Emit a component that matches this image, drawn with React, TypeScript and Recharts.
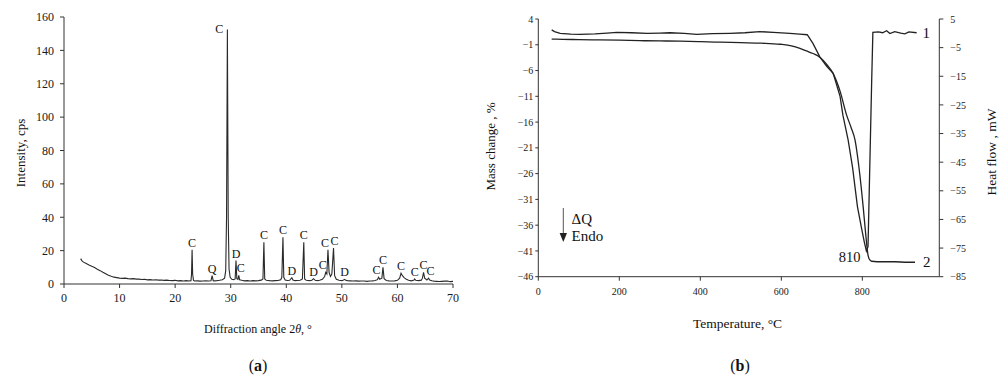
import { ComposedChart, Line, XAxis, YAxis, Scatter, ReferenceDot } from "recharts";

const serif = '"Liberation Serif", "Times New Roman", serif';
const ink = "#1a1a1a";

// (a) XRD pattern: [2θ, cps]
const xrdPattern: [number, number][] = [
  [3.0, 15.2], [3.2, 14.0], [3.5, 13.1], [4.0, 12.3], [4.5, 11.4], [5.0, 10.6], [5.5, 9.9],
  [6.0, 8.9], [6.5, 8.0], [7.0, 7.0], [7.5, 6.1], [8.0, 5.2], [8.5, 4.6], [9.0, 4.1],
  [9.5, 3.8], [10.0, 3.5], [10.5, 3.4], [11.0, 3.5], [11.5, 3.2], [12.0, 3.1], [12.5, 3.2],
  [13.0, 2.9], [13.5, 2.9], [14.0, 2.7], [14.5, 2.8], [15.0, 2.5], [15.5, 2.6], [16.0, 2.4],
  [16.5, 2.5], [17.0, 2.3], [17.5, 2.4], [18.0, 2.2], [18.5, 2.3], [19.0, 2.1], [19.5, 2.0],
  [20.0, 2.2], [20.5, 1.9], [21.0, 2.0], [21.5, 1.8], [22.0, 2.0], [22.5, 1.8],
  [22.85, 2.0], [22.95, 6], [23.05, 20.5], [23.15, 6], [23.3, 2.2],
  [23.5, 1.8], [24.0, 1.9], [24.5, 1.7], [25.0, 1.8], [25.5, 1.9], [26.0, 1.8],
  [26.45, 1.9], [26.65, 5.0], [26.85, 2.0],
  [27.0, 1.9], [27.5, 2.0], [28.0, 2.2], [28.5, 2.6], [28.9, 3.5], [29.1, 8], [29.25, 40],
  [29.4, 152.5], [29.55, 40], [29.7, 9], [29.9, 4], [30.2, 2.8], [30.5, 2.6],
  [30.8, 3], [30.95, 14], [31.1, 3.2], [31.3, 2.8], [31.45, 5.2], [31.6, 2.5],
  [32.0, 2.2], [32.5, 1.9], [33.0, 2.0], [33.5, 1.8], [34.0, 2.0], [34.5, 1.9], [35.0, 2.0],
  [35.5, 2.3], [35.8, 3], [35.97, 25], [36.12, 3], [36.4, 2.2], [37.0, 2.0], [37.5, 1.9],
  [38.0, 2.0], [38.5, 2.1], [39.0, 2.5], [39.2, 4], [39.4, 28], [39.55, 4], [39.8, 2.4],
  [40.2, 2.1], [40.6, 2.2], [41.0, 3.8], [41.2, 2.4], [41.6, 2.0], [42.0, 2.1], [42.5, 2.2],
  [42.9, 3.0], [43.15, 25], [43.3, 3], [43.6, 2.2], [44.2, 2.0], [44.6, 2.3], [44.9, 3.2],
  [45.2, 2.2], [45.6, 2.0], [46.0, 2.3], [46.5, 2.8], [46.9, 4.5], [47.1, 7], [47.3, 6],
  [47.5, 20.5], [47.7, 7], [47.95, 4.5], [48.2, 6], [48.5, 21.5], [48.7, 5], [49.0, 2.8],
  [49.5, 2.2], [50.0, 2.0], [50.3, 2.4], [50.5, 2.8], [50.7, 2.2], [51.0, 2.0], [51.5, 1.9],
  [52.0, 1.8], [52.5, 1.9], [53.0, 1.7], [53.5, 1.8], [54.0, 1.8], [54.5, 1.6], [55.0, 1.8],
  [55.5, 1.9], [56.0, 2.1], [56.4, 2.6], [56.6, 4], [56.8, 2.8], [57.2, 3.5], [57.4, 10],
  [57.6, 3.2], [58.0, 2.1], [58.5, 1.9], [59.0, 1.8], [59.5, 1.9], [60.0, 2.2], [60.4, 3.5],
  [60.65, 6.5], [60.9, 5], [61.2, 3.8], [61.6, 2.8], [62.0, 2.2], [62.5, 1.9], [63.0, 2.4],
  [63.1, 3], [63.3, 2.2], [63.8, 2.0], [64.3, 2.3], [64.5, 3.5], [64.7, 7], [64.9, 3.5],
  [65.3, 2.4], [65.6, 3.5], [65.8, 2.4], [66.2, 1.9], [66.6, 1.7], [67.0, 1.6], [67.5, 1.5],
  [68.0, 1.6], [68.5, 1.7], [69.0, 1.8], [69.5, 1.4], [70.0, 1.6],
];

// peak tops with phase labels: C calcite, D dolomite, Q quartz
const xrdPeaks: [number, number, string][] = [
  [23.05, 20.5, "C"], [26.65, 5.0, "Q"], [29.4, 152.5, "C"], [30.95, 14, "D"],
  [31.45, 5.2, "C"], [35.97, 25, "C"], [39.4, 28, "C"], [41.0, 3.8, "D"],
  [43.15, 25, "C"], [44.9, 3.2, "D"], [47.1, 7, "C"], [47.5, 20.5, "C"],
  [48.5, 21.5, "C"], [50.5, 2.8, "D"], [56.6, 4, "C"], [57.4, 10, "C"],
  [60.65, 6.5, "C"], [63.1, 3, "C"], [64.7, 7, "C"], [65.6, 3.5, "C"],
];

const angleTicks = [0, 10, 20, 30, 40, 50, 60, 70];
const cpsTicks = [0, 20, 40, 60, 80, 100, 120, 140, 160];

// (b) thermal analysis: [°C, value]
const tgCurve: [number, number][] = [
  [33, 0.1], [60, 0.05], [100, 0], [150, -0.05], [200, -0.1], [250, -0.2], [300, -0.25],
  [350, -0.3], [400, -0.4], [450, -0.5], [500, -0.6], [550, -0.7], [597, -0.9], [625, -1.2],
  [646, -1.7], [662, -2.2], [678, -2.7], [695, -3.4], [712, -4.8], [728, -6.6], [745, -10],
  [761, -14.6], [772, -17], [782, -19.5], [792, -25], [802, -32.4], [808, -37.5],
  [814, -41.8], [818, -42.7], [823, -43], [850, -43.1], [880, -43.1], [910, -43.2], [930, -43.2],
];

const dscCurve: [number, number][] = [
  [33, 1.2], [40, 0.6], [54, 0.0], [80, -0.3], [103, -0.35], [140, -0.2], [170, 0.1],
  [194, 0.35], [230, 0.2], [269, 0.0], [300, 0.1], [325, 0.2], [360, 0], [391, -0.35],
  [430, -0.1], [473, 0.0], [510, 0.2], [547, 0.6], [580, 0.3], [621, 0.0], [645, -0.3],
  [664, -0.5], [678, -3.5], [695, -8.2], [712, -11.5], [728, -14], [745, -22], [752, -28.6],
  [765, -37.3], [776, -47], [788, -60.6], [798, -68], [805, -73], [810, -76], [814, -74.5],
  [817, -55.4], [820, -36.2], [823, -17], [826, 0.3], [840, 0.5], [850, 0.2], [860, 0.9],
  [868, -0.1], [880, 0.6], [895, 0.1], [905, -0.2], [915, 0.5], [934, 0.2],
];

const tempTicks = [0, 200, 400, 600, 800];
const massTicks = [4, -1, -6, -11, -16, -21, -26, -31, -36, -41, -46];
const heatTicks = [5, -5, -15, -25, -35, -45, -55, -65, -75, -85];

const xrdData = xrdPattern.map(([angle, cps]) => ({ angle, cps }));
const peakData = xrdPeaks.map(([angle, cps, phase], i) => ({ angle, cps, phase, i }));
const tgData = tgCurve.map(([t, v]) => ({ t, v }));
const dscData = dscCurve.map(([t, v]) => ({ t, v }));

const minus = (v: number) => String(v).replace("-", "\u2212");

// small horizontal nudges so crowded labels sit like in the figure (px, by peak index)
const labelNudge: Record<number, number> = { 4: 2, 10: -3, 11: -3, 12: 1, 14: -2, 19: 2 };

function PeakLabel(props: any) {
  const { cx, cy, payload } = props;
  const big = payload.cps > 100;
  const dx = big ? -8 : labelNudge[payload.i] ?? 0;
  return (
    <text
      x={cx + dx}
      y={big ? cy + 3 : cy - 3}
      textAnchor="middle"
      fontSize={12}
      fontFamily={serif}
      fill="#111"
    >
      {payload.phase}
    </text>
  );
}

function makeTick(size: number) {
  return (props: any) => {
    const { x, y, payload, textAnchor, verticalAnchor } = props;
    return (
      <text
        x={x}
        y={y}
        dy={verticalAnchor === "start" ? "0.71em" : "0.36em"}
        textAnchor={textAnchor}
        fontSize={size}
        fontFamily={serif}
        fill={ink}
      >
        {minus(payload.value)}
      </text>
    );
  };
}

function DotText({ viewBox, text, dx = 0, dy = 0, anchor = "start", size = 15 }: any) {
  if (!viewBox) return null;
  const cx = viewBox.x + viewBox.width / 2;
  const cy = viewBox.y + viewBox.height / 2;
  return (
    <text
      x={cx + dx}
      y={cy + dy}
      textAnchor={anchor}
      dominantBaseline="central"
      fontSize={size}
      fontFamily={serif}
      fill="#111"
    >
      {text}
    </text>
  );
}

function XrdChart() {
  const tick = makeTick(12);
  return (
    <ComposedChart width={470} height={379} margin={{ top: 17, right: 17, left: 0, bottom: 0 }}>
      <XAxis
        xAxisId="b"
        type="number"
        dataKey="angle"
        domain={[0, 70]}
        ticks={angleTicks}
        interval={0}
        height={95}
        tickSize={4}
        tickMargin={5}
        stroke="#333"
        tick={tick}
      />
      <XAxis xAxisId="t" orientation="top" type="number" domain={[0, 70]} height={0} tick={false} tickLine={false} stroke="#666" />
      <YAxis
        yAxisId="l"
        type="number"
        domain={[0, 160]}
        ticks={cpsTicks}
        interval={0}
        width={64}
        tickSize={4}
        tickMargin={6}
        stroke="#333"
        tick={tick}
      />
      <YAxis yAxisId="r" orientation="right" type="number" domain={[0, 160]} width={0} tick={false} tickLine={false} stroke="#777" />
      <Line
        xAxisId="b"
        yAxisId="l"
        data={xrdData}
        dataKey="cps"
        type="linear"
        stroke="#2a2a2a"
        strokeWidth={1.1}
        dot={false}
        isAnimationActive={false}
      />
      <Scatter
        xAxisId="b"
        yAxisId="l"
        data={peakData}
        dataKey="cps"
        shape={PeakLabel}
        isAnimationActive={false}
      />
    </ComposedChart>
  );
}

function ThermalChart() {
  const tick = makeTick(10);
  return (
    <ComposedChart width={524} height={379} margin={{ top: 19, right: 0, left: 0, bottom: 0 }}>
      <XAxis
        xAxisId="b"
        type="number"
        dataKey="t"
        domain={[0, 990]}
        ticks={tempTicks}
        interval={0}
        height={102.3}
        tickSize={4}
        tickMargin={7}
        stroke="#333"
        tick={tick}
      />
      <XAxis xAxisId="t" orientation="top" type="number" domain={[0, 990]} height={0} tick={false} tickLine={false} stroke="#aaa" />
      <YAxis
        yAxisId="mass"
        type="number"
        domain={[-46, 4]}
        ticks={massTicks}
        interval={0}
        width={58.3}
        tickSize={3}
        tickMargin={2}
        stroke="#333"
        tick={tick}
      />
      <YAxis
        yAxisId="heat"
        orientation="right"
        type="number"
        domain={[-85, 5]}
        ticks={heatTicks}
        interval={0}
        width={64.7}
        tickSize={4}
        tickMargin={7}
        stroke="#333"
        tick={tick}
      />
      <Line
        xAxisId="b"
        yAxisId="mass"
        data={tgData}
        dataKey="v"
        type="monotone"
        stroke="#222"
        strokeWidth={1.3}
        dot={false}
        isAnimationActive={false}
      />
      <Line
        xAxisId="b"
        yAxisId="heat"
        data={dscData}
        dataKey="v"
        type="linear"
        stroke="#222"
        strokeWidth={1.3}
        dot={false}
        isAnimationActive={false}
      />
      <ReferenceDot xAxisId="b" yAxisId="heat" x={934} y={0.2} r={1} fill="none" stroke="none"
        label={(p: any) => <DotText {...p} text="1" dx={6} />} />
      <ReferenceDot xAxisId="b" yAxisId="mass" x={930} y={-43.2} r={1} fill="none" stroke="none"
        label={(p: any) => <DotText {...p} text="2" dx={8} />} />
      <ReferenceDot xAxisId="b" yAxisId="heat" x={810} y={-76} r={1} fill="none" stroke="none"
        label={(p: any) => <DotText {...p} text="810" dx={-6} dy={6} anchor="end" size={14.5} />} />
    </ComposedChart>
  );
}

function Annotations() {
  const t = { fontFamily: serif, fill: "#111" };
  return (
    <svg width={1004} height={379} style={{ position: "absolute", left: 0, top: 0, pointerEvents: "none" }}>
      <text {...t} fontSize={13} x={20} y={153} textAnchor="middle" dominantBaseline="central" transform="rotate(-90 20 153)">
        Intensity, cps
      </text>
      <text {...t} fontSize={12} x={258} y={329} textAnchor="middle" dominantBaseline="central">
        Diffraction angle 2<tspan fontStyle="italic">θ</tspan>, °
      </text>
      <text {...t} fontSize={16} x={258} y={365} textAnchor="middle" dominantBaseline="central">
        (<tspan fontWeight="bold">a</tspan>)
      </text>

      <text {...t} fontSize={13} x={490} y={146.5} textAnchor="middle" dominantBaseline="central" transform="rotate(-90 490 146.5)">
        Mass change , %
      </text>
      <text {...t} fontSize={13.5} x={991} y={152} textAnchor="middle" dominantBaseline="central" transform="rotate(-90 991 152)">
        Heat flow , mW
      </text>
      <text {...t} fontSize={13.5} x={737.5} y={323} textAnchor="middle" dominantBaseline="central">
        Temperature, °C
      </text>
      <text {...t} fontSize={16} x={740} y={365} textAnchor="middle" dominantBaseline="central">
        (<tspan fontWeight="bold">b</tspan>)
      </text>

      <line x1={563.3} y1={208} x2={563.3} y2={234} stroke="#555" strokeWidth={1} />
      <polygon points="559.6,233 567,233 563.3,242" fill="#222" />
      <text {...t} fontSize={15} x={571.5} y={224}>ΔQ</text>
      <text {...t} fontSize={15} x={571.5} y={240.7}>Endo</text>
    </svg>
  );
}

export default function App() {
  return (
    <div style={{ position: "absolute", left: 0, top: 0, width: 1004, height: 379, background: "#fff" }}>
      <div style={{ position: "absolute", left: 0, top: 0 }}>
        <XrdChart />
      </div>
      <div style={{ position: "absolute", left: 480, top: 0 }}>
        <ThermalChart />
      </div>
      <Annotations />
    </div>
  );
}
